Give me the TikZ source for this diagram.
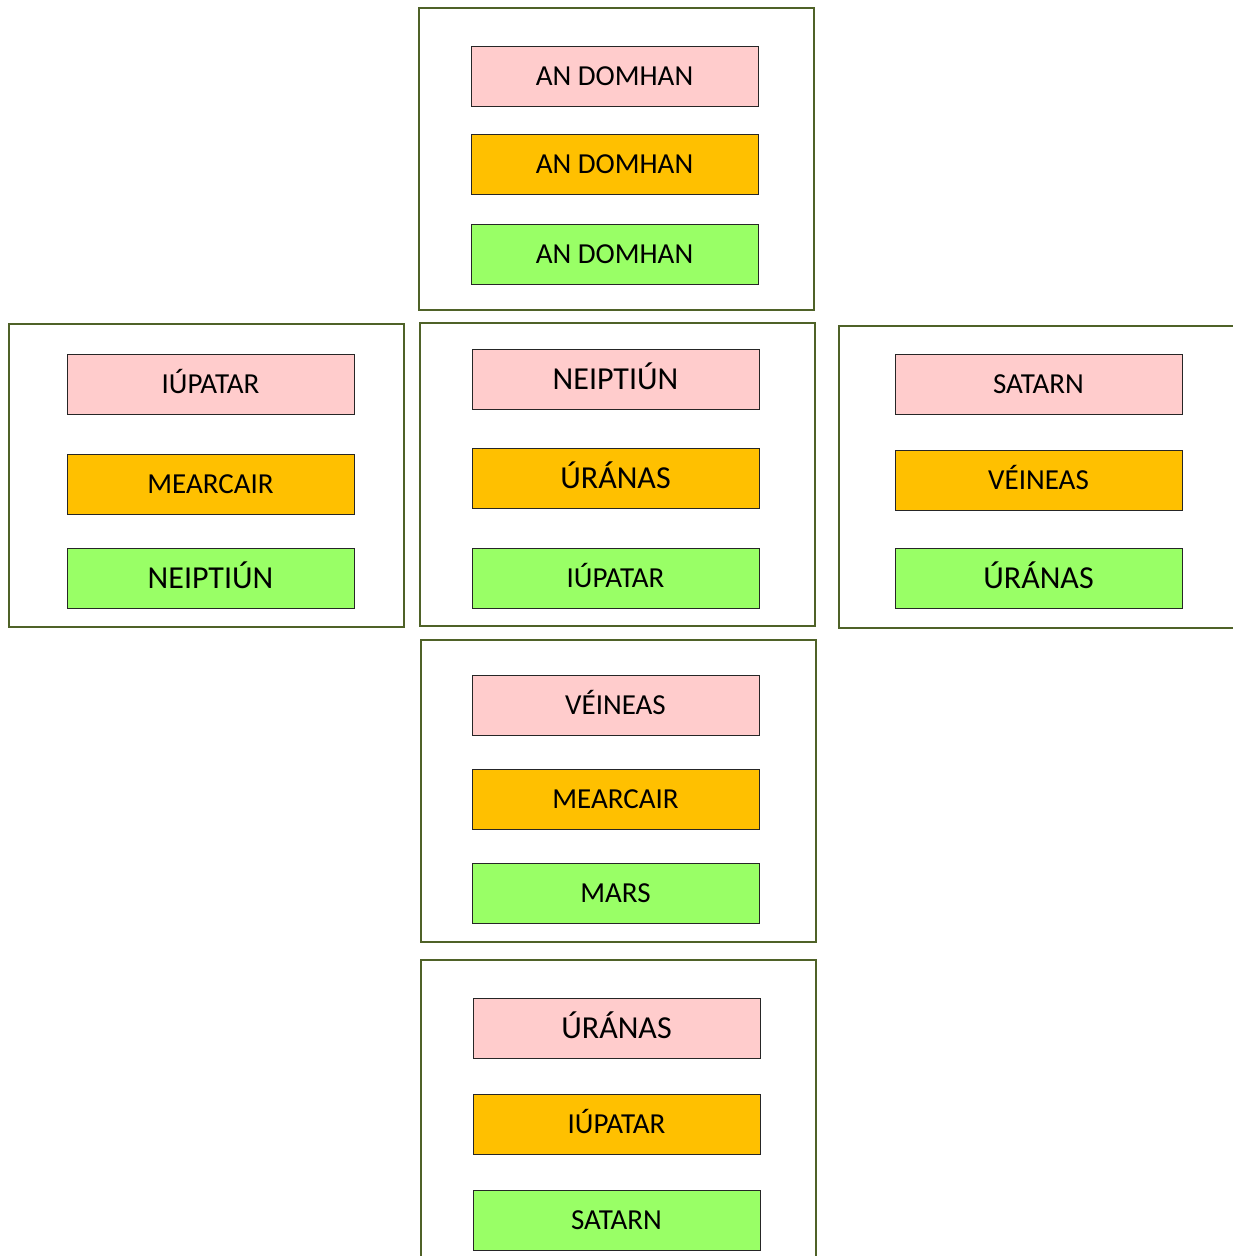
\documentclass[tikz,border=0pt]{standalone}
\usepackage{fontspec}
\setmainfont{Carlito}
\definecolor{pinkf}{HTML}{FFCCCC}
\definecolor{orangef}{HTML}{FFC000}
\definecolor{greenf}{HTML}{99FF66}
\definecolor{frameg}{HTML}{4F6228}
\begin{document}
\begin{tikzpicture}[x=1pt,y=-1pt,
  card/.style={draw=black!85, line width=0.9pt, minimum width=287pt, minimum height=60pt,
    inner sep=0pt, text height=19.5pt, text depth=0pt, font=\fontsize{29}{34}\selectfont},
  big/.style={font=\fontsize{32}{38}\selectfont, text height=21.2pt},
  pk/.style={card, fill=pinkf},
  og/.style={card, fill=orangef},
  gr/.style={card, fill=greenf},
  face/.style={draw=frameg, line width=2.8pt}]
\useasboundingbox (0,0) rectangle (1232,1256);
% faces
\draw[face] (419,8) rectangle (814,310);
\draw[face] (9,324) rectangle (404,627);
\draw[face] (420,323) rectangle (815,626);
\draw[face] (839,326) rectangle (1240,628);
\draw[face] (421,640) rectangle (816,942);
\draw[face] (421,960) rectangle (816,1270);
% top
\node[pk] (t1) at (614.5,76) {AN DOMHAN};
\node[og] (t2) at (614.5,164) {AN DOMHAN};
\node[gr] (t3) at (614.5,254) {AN DOMHAN};
% left
\node[pk] (l1) at (210.5,384) {IÚPATAR};
\node[og] (l2) at (210.5,484) {MEARCAIR};
\node[gr,big] (l3) at (210.5,578) {NEIPTIÚN};
% middle
\node[pk,big] (m1) at (615.5,379) {NEIPTIÚN};
\node[og,big] (m2) at (615.5,478) {ÚRÁNAS};
\node[gr] (m3) at (615.5,578) {IÚPATAR};
% right
\node[pk] (r1) at (1038.5,384) {SATARN};
\node[og] (r2) at (1038.5,480) {VÉINEAS};
\node[gr,big] (r3) at (1038.5,578) {ÚRÁNAS};
% fourth
\node[pk] (f1) at (615.5,705) {VÉINEAS};
\node[og] (f2) at (615.5,799) {MEARCAIR};
\node[gr] (f3) at (615.5,893) {MARS};
% bottom
\node[pk,big] (b1) at (616.5,1028) {ÚRÁNAS};
\node[og] (b2) at (616.5,1124) {IÚPATAR};
\node[gr] (b3) at (616.5,1220) {SATARN};
\end{tikzpicture}
\end{document}
